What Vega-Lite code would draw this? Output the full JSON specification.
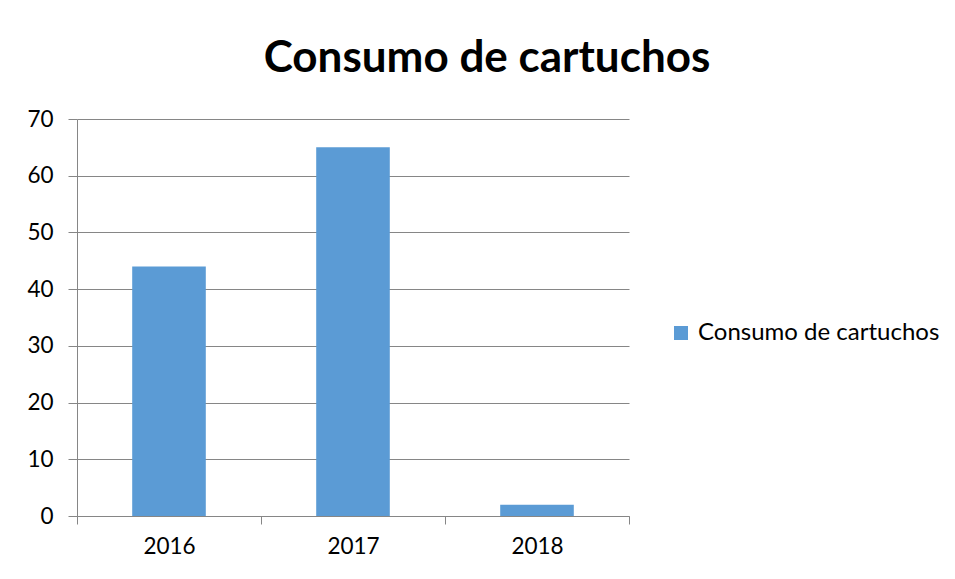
{
  "$schema": "https://vega.github.io/schema/vega-lite/v6.json",
  "autosize": "none",
  "width": 552,
  "height": 397,
  "padding": {"left": 77, "top": 119, "right": 326, "bottom": 63},
  "background": "white",
  "title": {
    "text": "Consumo de cartuchos",
    "font": "Lato",
    "fontSize": 44,
    "fontWeight": "bold",
    "color": "#000000",
    "anchor": "middle",
    "dx": 134,
    "offset": 27
  },
  "data": {
    "values": [
      {"year": "2016", "series": "Consumo de cartuchos", "value": 44},
      {"year": "2017", "series": "Consumo de cartuchos", "value": 65},
      {"year": "2018", "series": "Consumo de cartuchos", "value": 2}
    ]
  },
  "mark": {"type": "bar", "width": {"band": 0.4}},
  "encoding": {
    "x": {
      "field": "year",
      "type": "nominal",
      "scale": {"paddingInner": 0, "paddingOuter": 0},
      "axis": {
        "title": null,
        "labelAngle": 0,
        "tickBand": "extent",
        "tickSize": 8,
        "labelPadding": 11,
        "domainColor": "#868686",
        "tickColor": "#868686",
        "labelFont": "Lato",
        "labelFontSize": 22.5,
        "labelColor": "#000000"
      }
    },
    "y": {
      "field": "value",
      "type": "quantitative",
      "scale": {"domain": [0, 70]},
      "axis": {
        "title": null,
        "values": [0, 10, 20, 30, 40, 50, 60, 70],
        "tickSize": 9,
        "labelPadding": 15,
        "domainColor": "#868686",
        "tickColor": "#868686",
        "gridColor": "#868686",
        "labelFont": "Lato",
        "labelFontSize": 22.5,
        "labelColor": "#000000"
      }
    },
    "color": {
      "field": "series",
      "type": "nominal",
      "scale": {"range": ["#5B9BD5"]},
      "legend": {
        "title": null,
        "orient": "none",
        "legendX": 592,
        "legendY": 202,
        "symbolType": "square",
        "symbolSize": 196,
        "symbolStrokeWidth": 0,
        "labelFont": "Lato",
        "labelFontSize": 24,
        "labelColor": "#000000",
        "labelOffset": 5,
        "labelLimit": 400
      }
    }
  },
  "config": {
    "view": {"stroke": null},
    "axis": {"domainWidth": 1, "gridWidth": 1}
  }
}
